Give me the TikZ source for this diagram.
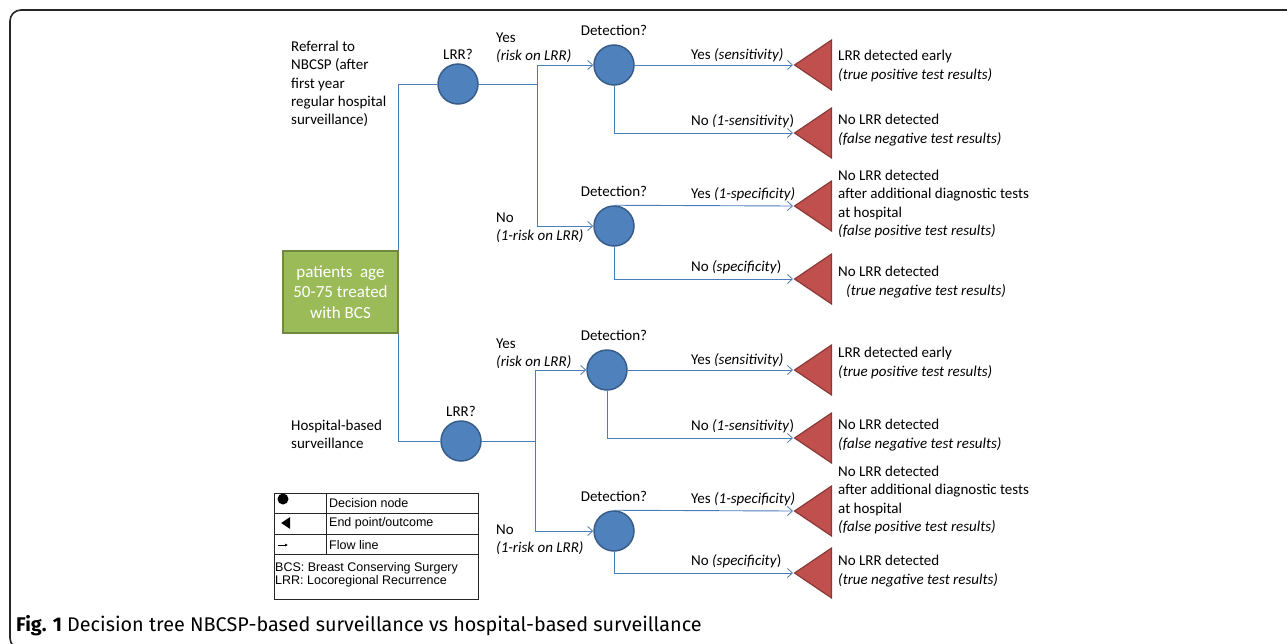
\documentclass[tikz,border=0pt]{standalone}
\usepackage{fontspec}
\setmainfont{Carlito}
\newfontfamily\keyfamily{Liberation Sans}
\newfontfamily\figcapfamily{Fira Sans}
\usetikzlibrary{arrows.meta,positioning,shapes}

\definecolor{nodeblue}{HTML}{4F81BD}
\definecolor{nodeblueline}{HTML}{385D8A}
\definecolor{endred}{HTML}{C0504D}
\definecolor{endredline}{HTML}{8C3836}
\definecolor{startgreen}{HTML}{9BBB59}
\definecolor{startgreenline}{HTML}{71893F}
\definecolor{flowblue}{HTML}{4A7EBB}

\newcommand{\treefont}{\fontsize{15}{18.3}\selectfont}
\newcommand{\boxfont}{\fontsize{17}{20.5}\selectfont}
\newcommand{\keyfont}{\keyfamily\fontsize{12.5}{12.5}\selectfont}
\newcommand{\figcapfont}{\figcapfamily\fontsize{19.8}{24}\selectfont}

\begin{document}
\begin{tikzpicture}[x=1pt, y=-1pt]

		\tikzstyle{chance}=[circle, draw=nodeblueline, line width=1.5pt, fill=nodeblue, minimum size=40pt, inner sep=0pt]
		\tikzstyle{outcome}=[isosceles triangle, isosceles triangle stretches, shape border rotate=180, draw=endredline, line width=1.2pt, fill=endred, minimum width=50pt, minimum height=37pt, inner sep=0pt, anchor=apex]
		\tikzstyle{start}=[rectangle, draw=startgreenline, line width=1.5pt, fill=startgreen, text=white, minimum width=115pt, minimum height=82pt, align=center, font=\boxfont]
		\tikzstyle{txt}=[anchor=west, inner sep=0pt, align=left, font=\treefont]
		\tikzstyle{branch}=[draw=flowblue, line width=0.9pt]
		\tikzstyle{flow}=[branch, -{Straight Barb[length=5pt, width=9pt, line width=0.8pt]}]
		\tikzstyle{keyline}=[draw=black!85, line width=0.8pt]
		\tikzstyle{key}=[anchor=west, inner sep=0pt, align=left, font=\keyfont]

		\useasboundingbox (0,0) rectangle (1287,643);
		\draw[line width=1.6pt, draw=black!85, rounded corners=11pt] (1300,10) -- (10,10) -- (10,649) -- (60,649);

		\node[start] (pat) at (340.5,292) {patients\ \ age\\50-75 treated\\with BCS};

		\node[txt] (ref)  at (291,84)  {Referral to\\NBCSP (after\\first year\\regular hospital\\surveillance)};
		\node[txt] (hosp) at (291,434) {Hospital-based\\surveillance};

		\node[chance] (lrr1) at (458,84)  {};
		\node[chance] (lrr2) at (461,441) {};
		\node[txt, above=3pt of lrr1] (qlrr1) {LRR?};
		\node[txt, above=3pt of lrr2] (qlrr2) {LRR?};

		\node[chance] (det1) at (614,65)  {};
		\node[chance] (det2) at (614,226) {};
		\node[chance] (det3) at (607,370) {};
		\node[chance] (det4) at (614,531) {};
		\node[txt, above=8pt of det1] (qdet1) {Detection?};
		\node[txt, above=8pt of det2] (qdet2) {Detection?};
		\node[txt, above=8pt of det3, xshift=7pt] (qdet3) {Detection?};
		\node[txt, above=8pt of det4] (qdet4) {Detection?};

		\node[outcome] (end1) at (793,65)  {};
		\node[outcome] (end2) at (793,133) {};
		\node[outcome] (end3) at (793,206) {};
		\node[outcome] (end4) at (793,279) {};
		\node[outcome] (end5) at (793,370) {};
		\node[outcome] (end6) at (793,438) {};
		\node[outcome] (end7) at (793,511) {};
		\node[outcome] (end8) at (793,573) {};

		% tree lines
		\coordinate (jn1) at (537,84);
		\coordinate (jn2) at (535,441);
		\draw[branch] (pat.north east) |- (lrr1);
		\draw[branch] (pat.south east) |- (lrr2);
		\draw[branch] (lrr1) -- (jn1);
		\draw[branch] (lrr2) -- (jn2);
		\draw[flow] (jn1) |- (det1);
		\draw[flow] (jn1) |- (det2);
		\draw[flow] (jn2) |- (det3);
		\draw[flow] (jn2) |- (det4);

		\draw[flow] (det1.east)  -- (end1.apex);
		\draw[flow] (det1.south) |- (end2.apex);
		\draw[flow] (det2.north) -- (end3.apex);
		\draw[flow] (det2.south) |- (end4.apex);
		\draw[flow] (det3.east)  -- (end5.apex);
		\draw[flow] (det3.south) |- (end6.apex);
		\draw[flow] (det4.north) -- (end7.apex);
		\draw[flow] (det4.south) |- (end8.apex);

		% branch labels
		\node[txt] (yes1) at (496,48)  {Yes\\\textit{(risk on LRR)}};
		\node[txt] (no1)  at (496,228) {No\\\textit{(1-risk on LRR)}};
		\node[txt] (yes2) at (496,354) {Yes\\\textit{(risk on LRR)}};
		\node[txt] (no2)  at (496,540) {No\\\textit{(1-risk on LRR)}};

		\node[txt] (sens1) at (691,55)  {Yes \textit{(sensitivity)}};
		\node[txt] (fneg1) at (691,121) {No \textit{(1-sensitivity})};
		\node[txt] (fpos1) at (691,194) {Yes \textit{(1-specificity)}};
		\node[txt] (spec1) at (691,267) {No \textit{(specificity})};
		\node[txt] (sens2) at (691,360) {Yes \textit{(sensitivity)}};
		\node[txt] (fneg2) at (691,426) {No \textit{(1-sensitivity})};
		\node[txt] (fpos2) at (691,499) {Yes \textit{(1-specificity)}};
		\node[txt] (spec2) at (691,561) {No \textit{(specificity})};

		% outcomes
		\node[txt] (res1) at (838,66)  {LRR detected early\\\textit{(true positive test results)}};
		\node[txt] (res2) at (838,130) {No LRR detected\\\textit{(false negative test results)}};
		\node[txt] (res3) at (838,204) {No LRR detected\\after additional diagnostic tests\\at hospital\\\textit{(false positive test results)}};
		\node[txt] (res4) at (838,282) {No LRR detected\\\hspace*{8pt}\textit{(true negative test results)}};
		\node[txt] (res5) at (838,363) {LRR detected early\\\textit{(true positive test results)}};
		\node[txt] (res6) at (838,435) {No LRR detected\\\textit{(false negative test results)}};
		\node[txt] (res7) at (838,500) {No LRR detected\\after additional diagnostic tests\\at hospital\\\textit{(false positive test results)}};
		\node[txt] (res8) at (838,571) {No LRR detected\\\textit{(true negative test results)}};

		% legend
		\draw[keyline] (274,493) rectangle (478,599);
		\draw[keyline] (274,513) -- (478,513);
		\draw[keyline] (274,534) -- (478,534);
		\draw[keyline] (274,554) -- (478,554);
		\draw[keyline] (326,493) -- (326,554);
		\node[circle, fill=black, minimum size=11pt, inner sep=0pt] (keydot) at (283,499) {};
		\node[isosceles triangle, isosceles triangle stretches, shape border rotate=180, fill=black, minimum width=12pt, minimum height=9pt, inner sep=0pt] (keytri) at (287,523) {};
		\coordinate (keya) at (278,545);
		\coordinate (keyb) at (288,545);
		\draw[-{Latex[length=3pt, width=3pt]}, line width=0.6pt] (keya) -- (keyb);
		\node[key] (keyc) at (329,503) {Decision node};
		\node[key] (keye) at (329,523) {End point/outcome};
		\node[key] (keyf) at (329,545) {Flow line};
		\node[key] (keyab) at (275,575) {BCS: Breast Conserving Surgery\\LRR: Locoregional Recurrence};

		% caption
		\node[anchor=west, inner sep=0pt, font=\figcapfont] (cap) at (16,626) {\textbf{Fig. 1} Decision tree NBCSP-based surveillance vs hospital-based surveillance};
\end{tikzpicture}
\end{document}
